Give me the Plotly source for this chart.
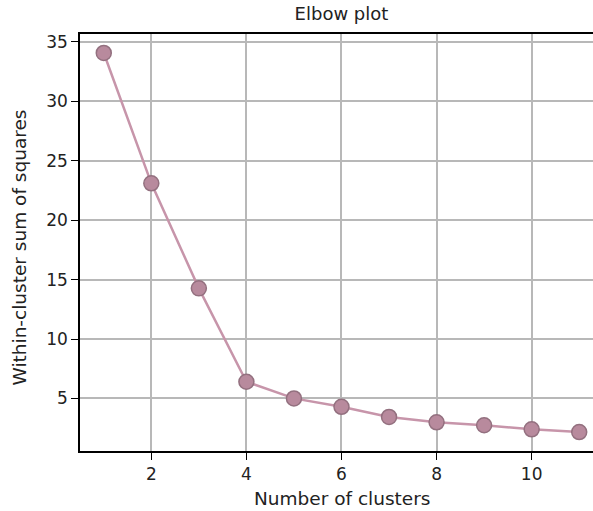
import plotly.graph_objects as go

clusters = [1, 2, 3, 4, 5, 6, 7, 8, 9, 10, 11]
wcss = [34.07, 23.1, 14.26, 6.4, 5.0, 4.29, 3.44, 2.99, 2.74, 2.40, 2.17]
x_ticks = [2, 4, 6, 8, 10]
y_ticks = [5, 10, 15, 20, 25, 30, 35]

title_text = "Elbow plot"
x_label = "Number of clusters"
y_label = "Within-cluster sum of squares"

W, H = 593, 511
L, T, B, R = 80, 34, 60, 0
FONT = "DejaVu Sans"

fig = go.Figure()
fig.add_trace(go.Scatter(
    x=clusters, y=wcss, mode="lines+markers",
    line=dict(color="#c795aa", width=2.5),
    marker=dict(size=15, color="#b88a9d", line=dict(color="#93707f", width=1.5)),
    showlegend=False,
))

axis_common = dict(
    showgrid=True, gridcolor="#b8b8b8", gridwidth=1.5,
    showline=True, linecolor="black", linewidth=1.5,
    ticks="outside", ticklen=7, tickwidth=1.4, tickcolor="black",
    tickfont=dict(family=FONT, size=17, color="#222222"),
    zeroline=False,
)

fig.update_xaxes(range=[0.5, 11.29], tickvals=x_ticks, mirror=True, **axis_common)
fig.update_yaxes(range=[0.575, 35.665], tickvals=y_ticks, mirror=False, **axis_common)

plot_w = W - L - R
cx = (341.5 - L) / plot_w

fig.update_layout(
    width=W, height=H,
    margin=dict(l=L, r=R, t=T, b=B, pad=0),
    paper_bgcolor="white", plot_bgcolor="white",
    font=dict(family=FONT, color="#222222"),
    title=dict(text=title_text, font=dict(family=FONT, size=18, color="#222222"),
               xref="paper", x=cx, xanchor="center",
               yref="container", y=1 - 14 / H, yanchor="middle"),
    annotations=[
        dict(text=x_label, xref="paper", x=cx, xanchor="center",
             yref="paper", y=-(498 - (H - B)) / (H - T - B), yanchor="middle",
             showarrow=False, font=dict(family=FONT, size=18.5, color="#222222")),
        dict(text=y_label, xref="paper", x=-(L - 19) / plot_w, xanchor="center",
             yref="paper", y=1 - (247.5 - T) / (H - T - B), yanchor="middle",
             textangle=-90, showarrow=False,
             font=dict(family=FONT, size=18.5, color="#222222")),
    ],
)

fig.write_html("out.html")
